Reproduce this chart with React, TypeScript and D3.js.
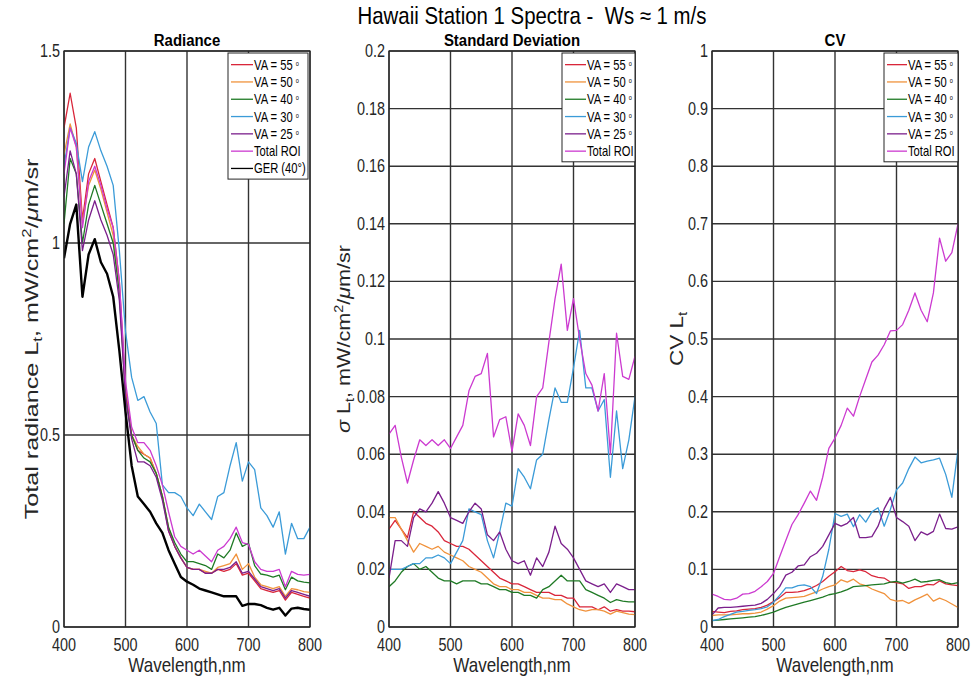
import React from 'react';
import * as d3 from 'd3';

const WAVELENGTH = [400, 410, 420, 430, 440, 450, 460, 470, 480, 490, 500, 510, 520, 530, 540, 550, 560, 570, 580, 590, 600, 610, 620, 630, 640, 650, 660, 670, 680, 690, 700, 710, 720, 730, 740, 750, 760, 770, 780, 790, 800];
const X_TICKS = [400, 500, 600, 700, 800];
const RAD_TICKS = [0, 0.5, 1, 1.5];
const SD_TICKS = [0, 0.02, 0.04, 0.06, 0.08, 0.1, 0.12, 0.14, 0.16, 0.18, 0.2];
const CV_TICKS = [0, 0.1, 0.2, 0.3, 0.4, 0.5, 0.6, 0.7, 0.8, 0.9, 1];

const SERIES_LABELS = ['VA = 55', 'VA = 50', 'VA = 40', 'VA = 30', 'VA = 25', 'Total ROI', 'GER (40°)'];
const SERIES_COLORS = ['#d9263a', '#f0923c', '#1f7a25', '#3b9bd8', '#7b1f8c', '#cc3ad0', '#000000'];

// Radiance
const RAD_VA55 = [1.30, 1.39, 1.30, 1.06, 1.18, 1.22, 1.16, 1.10, 1.04, 0.90, 0.62, 0.50, 0.46, 0.45, 0.44, 0.40, 0.34, 0.25, 0.21, 0.18, 0.155, 0.15, 0.15, 0.14, 0.14, 0.15, 0.145, 0.15, 0.165, 0.135, 0.14, 0.12, 0.10, 0.095, 0.09, 0.095, 0.07, 0.09, 0.085, 0.08, 0.075];
const RAD_VA50 = [1.23, 1.31, 1.25, 1.05, 1.15, 1.19, 1.14, 1.08, 1.02, 0.88, 0.61, 0.50, 0.47, 0.45, 0.44, 0.40, 0.34, 0.26, 0.21, 0.18, 0.155, 0.15, 0.15, 0.145, 0.14, 0.155, 0.16, 0.165, 0.19, 0.15, 0.165, 0.13, 0.11, 0.105, 0.10, 0.105, 0.08, 0.10, 0.097, 0.092, 0.09];
const RAD_VA40 = [1.05, 1.22, 1.18, 1.00, 1.10, 1.15, 1.10, 1.05, 1.00, 0.87, 0.60, 0.50, 0.46, 0.44, 0.43, 0.40, 0.34, 0.26, 0.22, 0.19, 0.17, 0.17, 0.165, 0.16, 0.15, 0.19, 0.18, 0.20, 0.245, 0.21, 0.218, 0.16, 0.138, 0.135, 0.13, 0.135, 0.097, 0.13, 0.12, 0.117, 0.115];
const RAD_VA30 = [1.20, 1.30, 1.26, 1.16, 1.25, 1.29, 1.24, 1.20, 1.15, 0.98, 0.77, 0.65, 0.59, 0.60, 0.56, 0.53, 0.37, 0.35, 0.35, 0.34, 0.31, 0.29, 0.32, 0.30, 0.28, 0.34, 0.35, 0.42, 0.48, 0.38, 0.43, 0.41, 0.31, 0.29, 0.26, 0.30, 0.19, 0.27, 0.23, 0.23, 0.26];
const RAD_VA25 = [1.12, 1.24, 1.18, 0.98, 1.06, 1.11, 1.06, 1.02, 0.97, 0.85, 0.60, 0.49, 0.43, 0.43, 0.42, 0.39, 0.33, 0.25, 0.21, 0.18, 0.155, 0.15, 0.15, 0.14, 0.14, 0.15, 0.15, 0.155, 0.17, 0.14, 0.145, 0.125, 0.105, 0.10, 0.095, 0.10, 0.075, 0.095, 0.09, 0.085, 0.08];
const RAD_ROI = [1.18, 1.30, 1.25, 1.04, 1.16, 1.20, 1.15, 1.09, 1.04, 0.90, 0.64, 0.52, 0.48, 0.48, 0.46, 0.42, 0.37, 0.30, 0.235, 0.21, 0.20, 0.19, 0.20, 0.185, 0.17, 0.20, 0.21, 0.23, 0.26, 0.22, 0.215, 0.17, 0.15, 0.145, 0.145, 0.15, 0.105, 0.145, 0.137, 0.135, 0.137];
const RAD_GER = [0.96, 1.05, 1.10, 0.86, 0.97, 1.01, 0.95, 0.92, 0.86, 0.72, 0.56, 0.42, 0.34, 0.32, 0.30, 0.27, 0.245, 0.20, 0.165, 0.13, 0.118, 0.11, 0.10, 0.095, 0.09, 0.085, 0.08, 0.08, 0.08, 0.055, 0.06, 0.06, 0.057, 0.05, 0.045, 0.05, 0.03, 0.048, 0.05, 0.047, 0.045];

// Standard deviation
const SD_VA55 = [0.034, 0.037, 0.034, 0.031, 0.040, 0.038, 0.036, 0.035, 0.033, 0.030, 0.029, 0.028, 0.028, 0.027, 0.025, 0.023, 0.021, 0.019, 0.017, 0.016, 0.015, 0.015, 0.014, 0.013, 0.012, 0.012, 0.012, 0.011, 0.011, 0.010, 0.010, 0.007, 0.007, 0.007, 0.006, 0.007, 0.0055, 0.006, 0.0055, 0.0055, 0.0053];
const SD_VA50 = [0.038, 0.038, 0.034, 0.030, 0.026, 0.029, 0.028, 0.027, 0.028, 0.026, 0.025, 0.024, 0.023, 0.021, 0.020, 0.019, 0.017, 0.015, 0.014, 0.014, 0.013, 0.013, 0.012, 0.012, 0.011, 0.010, 0.010, 0.0095, 0.0095, 0.008, 0.007, 0.006, 0.0055, 0.006, 0.006, 0.0055, 0.0045, 0.0055, 0.005, 0.0045, 0.0043];
const SD_VA40 = [0.014, 0.016, 0.019, 0.021, 0.022, 0.020, 0.021, 0.019, 0.017, 0.016, 0.016, 0.015, 0.016, 0.016, 0.016, 0.015, 0.015, 0.014, 0.013, 0.013, 0.012, 0.012, 0.011, 0.011, 0.010, 0.013, 0.014, 0.016, 0.018, 0.016, 0.016, 0.016, 0.013, 0.012, 0.011, 0.010, 0.0085, 0.0095, 0.009, 0.0087, 0.0087];
const SD_VA30 = [0.020, 0.020, 0.020, 0.021, 0.022, 0.022, 0.024, 0.024, 0.025, 0.024, 0.022, 0.026, 0.030, 0.041, 0.040, 0.039, 0.030, 0.024, 0.033, 0.043, 0.042, 0.055, 0.052, 0.048, 0.058, 0.060, 0.072, 0.083, 0.078, 0.078, 0.090, 0.103, 0.083, 0.083, 0.075, 0.079, 0.052, 0.075, 0.055, 0.065, 0.080];
const SD_VA25 = [0.017, 0.030, 0.030, 0.028, 0.038, 0.041, 0.040, 0.043, 0.047, 0.043, 0.038, 0.037, 0.036, 0.040, 0.043, 0.041, 0.032, 0.030, 0.033, 0.027, 0.023, 0.022, 0.023, 0.018, 0.024, 0.021, 0.026, 0.035, 0.029, 0.027, 0.024, 0.020, 0.016, 0.015, 0.014, 0.015, 0.012, 0.015, 0.014, 0.013, 0.013];
const SD_ROI = [0.067, 0.070, 0.059, 0.050, 0.058, 0.065, 0.063, 0.065, 0.063, 0.065, 0.062, 0.066, 0.070, 0.082, 0.087, 0.088, 0.095, 0.066, 0.072, 0.073, 0.061, 0.074, 0.070, 0.063, 0.080, 0.083, 0.099, 0.114, 0.126, 0.103, 0.114, 0.100, 0.088, 0.084, 0.075, 0.088, 0.060, 0.102, 0.087, 0.086, 0.094];

// Coefficient of variation
const CV_VA55 = [0.027, 0.026, 0.025, 0.027, 0.028, 0.030, 0.031, 0.032, 0.034, 0.038, 0.044, 0.051, 0.060, 0.060, 0.061, 0.063, 0.067, 0.072, 0.079, 0.088, 0.096, 0.105, 0.098, 0.096, 0.099, 0.096, 0.089, 0.086, 0.085, 0.078, 0.077, 0.075, 0.067, 0.070, 0.070, 0.074, 0.073, 0.080, 0.075, 0.073, 0.072];
const CV_VA50 = [0.020, 0.021, 0.021, 0.021, 0.022, 0.023, 0.023, 0.024, 0.026, 0.031, 0.037, 0.045, 0.050, 0.051, 0.052, 0.053, 0.057, 0.061, 0.066, 0.070, 0.073, 0.082, 0.078, 0.083, 0.075, 0.072, 0.066, 0.062, 0.058, 0.048, 0.045, 0.046, 0.041, 0.047, 0.052, 0.057, 0.045, 0.050, 0.046, 0.040, 0.034];
const CV_VA40 = [0.011, 0.012, 0.013, 0.014, 0.015, 0.016, 0.017, 0.018, 0.020, 0.023, 0.026, 0.030, 0.034, 0.037, 0.040, 0.043, 0.046, 0.049, 0.052, 0.056, 0.058, 0.061, 0.065, 0.070, 0.071, 0.072, 0.073, 0.074, 0.075, 0.078, 0.079, 0.076, 0.079, 0.083, 0.078, 0.079, 0.081, 0.082, 0.077, 0.075, 0.077];
const CV_VA30 = [0.011, 0.013, 0.018, 0.022, 0.026, 0.027, 0.029, 0.030, 0.032, 0.035, 0.043, 0.055, 0.068, 0.068, 0.072, 0.073, 0.070, 0.058, 0.088, 0.135, 0.197, 0.192, 0.196, 0.174, 0.195, 0.182, 0.200, 0.207, 0.175, 0.204, 0.238, 0.250, 0.275, 0.295, 0.285, 0.288, 0.290, 0.293, 0.265, 0.225, 0.308];
const CV_VA25 = [0.021, 0.033, 0.034, 0.034, 0.035, 0.036, 0.037, 0.038, 0.041, 0.048, 0.058, 0.070, 0.090, 0.095, 0.106, 0.108, 0.122, 0.128, 0.140, 0.160, 0.180, 0.175, 0.180, 0.190, 0.155, 0.155, 0.157, 0.175, 0.205, 0.225, 0.190, 0.183, 0.175, 0.150, 0.165, 0.160, 0.166, 0.196, 0.171, 0.170, 0.174];
const CV_ROI = [0.057, 0.053, 0.048, 0.047, 0.050, 0.057, 0.058, 0.062, 0.070, 0.079, 0.093, 0.122, 0.150, 0.178, 0.195, 0.215, 0.236, 0.220, 0.260, 0.310, 0.328, 0.350, 0.380, 0.366, 0.400, 0.430, 0.460, 0.472, 0.490, 0.514, 0.515, 0.525, 0.550, 0.580, 0.550, 0.530, 0.580, 0.675, 0.635, 0.650, 0.700];

const FONT = "'Liberation Sans', Arial, Helvetica, sans-serif";
const TOP = 51;
const BOTTOM = 627;
const INK = '#262626';

function fmt(v: number) {
  return String(+v.toFixed(2));
}

type NTextProps = {
  x: number;
  y: number;
  sx?: number;
  size: number;
  anchor?: 'start' | 'middle' | 'end';
  weight?: string;
  fill?: string;
  children: React.ReactNode;
};

// horizontally condensed text (the reference figure was stretched vertically)
function NText({ x, y, sx = 0.82, size, anchor = 'start', weight = 'normal', fill = INK, children }: NTextProps) {
  return (
    <g transform={`translate(${x},${y}) scale(${sx},1)`}>
      <text x={0} y={0} textAnchor={anchor} fontSize={size} fontWeight={weight} fill={fill} fontFamily={FONT}>
        {children}
      </text>
    </g>
  );
}

type PanelProps = {
  id: string;
  x0: number;
  x1: number;
  yMax: number;
  yTicks: number[];
  title: string;
  ylabel: React.ReactNode;
  ylabelX: number;
  ylabelStretch: number;
  data: number[][];
  legend: { x: number; y: number; w: number; rowH: number; lineLen: number };
};

function Panel({ id, x0, x1, yMax, yTicks, title, ylabel, ylabelX, ylabelStretch, data, legend }: PanelProps) {
  const x = d3.scaleLinear().domain([400, 800]).range([x0, x1]);
  const y = d3.scaleLinear().domain([0, yMax]).range([BOTTOM, TOP]);
  const line = d3
    .line<number>()
    .x((_, i) => x(WAVELENGTH[i]))
    .y((d) => y(d));
  const cx = (x0 + x1) / 2;
  const n = data.length;
  const lh = legend.rowH * n + 5;
  return (
    <g>
      <defs>
        <clipPath id={`clip-${id}`}>
          <rect x={x0} y={TOP} width={x1 - x0} height={BOTTOM - TOP} />
        </clipPath>
      </defs>
      <rect x={x0} y={TOP} width={x1 - x0} height={BOTTOM - TOP} fill="#fff" />
      {X_TICKS.map((t) => (
        <line key={'gx' + t} x1={x(t)} x2={x(t)} y1={TOP} y2={BOTTOM} stroke="#333" strokeWidth={1.4} />
      ))}
      {yTicks.map((t) => (
        <line key={'gy' + t} x1={x0} x2={x1} y1={y(t)} y2={y(t)} stroke="#333" strokeWidth={1.4} />
      ))}
      <g clipPath={`url(#clip-${id})`}>
        {data.map((s, i) => (
          <path
            key={'s' + i}
            d={line(s) || ''}
            fill="none"
            stroke={SERIES_COLORS[i]}
            strokeWidth={i === 6 ? 2.4 : 1.3}
            strokeLinejoin="round"
          />
        ))}
      </g>
      <rect x={x0} y={TOP} width={x1 - x0} height={BOTTOM - TOP} fill="none" stroke={INK} strokeWidth={1.2} />
      {X_TICKS.map((t) => (
        <NText key={'xt' + t} x={x(t)} y={BOTTOM + 24} size={18} sx={0.8} anchor="middle">
          {t}
        </NText>
      ))}
      {yTicks.map((t) => (
        <NText key={'yt' + t} x={x0 - 4} y={y(t) + 6} size={18} sx={0.8} anchor="end">
          {fmt(t)}
        </NText>
      ))}
      <NText x={cx} y={BOTTOM + 45} size={20} sx={0.85} anchor="middle">
        Wavelength,nm
      </NText>
      <NText x={cx} y={TOP - 5} size={17} sx={0.88} anchor="middle" weight="bold" fill="#000">
        {title}
      </NText>
      <g transform={`translate(${ylabelX},${(TOP + BOTTOM) / 2}) rotate(-90) scale(${ylabelStretch},1)`}>
        <text x={0} y={0} textAnchor="middle" fontSize={18} fill={INK} fontFamily={FONT}>
          {ylabel}
        </text>
      </g>
      <rect x={legend.x} y={legend.y} width={legend.w} height={lh} fill="#fff" stroke={INK} strokeWidth={1} />
      {data.map((_, i) => {
        const ly = legend.y + 3 + legend.rowH * (i + 0.5);
        const lab = SERIES_LABELS[i];
        const isVA = lab.startsWith('VA');
        return (
          <g key={'lg' + i}>
            <line x1={legend.x + 3} x2={legend.x + 3 + legend.lineLen} y1={ly} y2={ly} stroke={SERIES_COLORS[i]} strokeWidth={1.3} />
            <NText x={legend.x + 4 + legend.lineLen} y={ly + 5} size={14} sx={0.8} fill="#000">
              {lab}
              {isVA && (
                <tspan fontSize={7} dx={4} dy={-4}>
                  o
                </tspan>
              )}
            </NText>
          </g>
        );
      })}
    </g>
  );
}

export default function App() {
  const radData = [RAD_VA55, RAD_VA50, RAD_VA40, RAD_VA30, RAD_VA25, RAD_ROI, RAD_GER];
  const sdData = [SD_VA55, SD_VA50, SD_VA40, SD_VA30, SD_VA25, SD_ROI];
  const cvData = [CV_VA55, CV_VA50, CV_VA40, CV_VA30, CV_VA25, CV_ROI];
  return (
    <svg
      width={971}
      height={681}
      style={{ position: 'absolute', left: 0, top: 0, background: '#fff' }}
      xmlns="http://www.w3.org/2000/svg"
    >
      <rect x={0} y={0} width={971} height={681} fill="#fff" />
      <NText x={532} y={24} size={24} sx={0.85} anchor="middle" fill="#000">
        {'Hawaii Station 1 Spectra -\u00a0 Ws ≈ 1 m/s'}
      </NText>
      <Panel
        id="rad"
        x0={64}
        x1={310}
        yMax={1.5}
        yTicks={RAD_TICKS}
        title="Radiance"
        ylabelX={38}
        ylabelStretch={1.4}
        data={radData}
        legend={{ x: 228, y: 53, w: 80, rowH: 17.3, lineLen: 22 }}
        ylabel={
          <>
            Total radiance L
            <tspan fontSize={12} dy={4}>t</tspan>
            <tspan dy={-4}>, mW/cm</tspan>
            <tspan fontSize={12} dy={-7}>2</tspan>
            <tspan dy={7}>/</tspan>
            <tspan fontStyle="italic">μ</tspan>
            m/sr
          </>
        }
      />
      <Panel
        id="sd"
        x0={389}
        x1={635}
        yMax={0.2}
        yTicks={SD_TICKS}
        title="Standard Deviation"
        ylabelX={350}
        ylabelStretch={1.2}
        data={sdData}
        legend={{ x: 562, y: 53, w: 73, rowH: 17.3, lineLen: 21 }}
        ylabel={
          <>
            <tspan fontStyle="italic">σ</tspan> L
            <tspan fontSize={12} dy={4}>t</tspan>
            <tspan dy={-4}>, mW/cm</tspan>
            <tspan fontSize={12} dy={-7}>2</tspan>
            <tspan dy={7}>/</tspan>
            <tspan fontStyle="italic">μ</tspan>
            m/sr
          </>
        }
      />
      <Panel
        id="cv"
        x0={712}
        x1={958}
        yMax={1}
        yTicks={CV_TICKS}
        title="CV"
        ylabelX={683}
        ylabelStretch={1.25}
        data={cvData}
        legend={{ x: 884, y: 53, w: 74, rowH: 17.3, lineLen: 20 }}
        ylabel={
          <>
            CV L
            <tspan fontSize={12} dy={4}>t</tspan>
          </>
        }
      />
    </svg>
  );
}
